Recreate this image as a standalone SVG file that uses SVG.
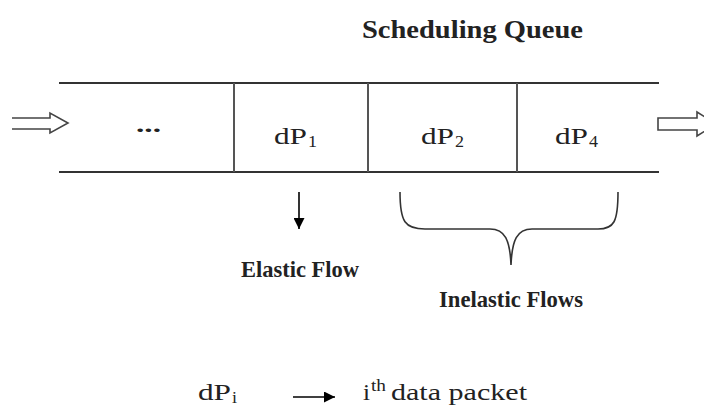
<svg xmlns="http://www.w3.org/2000/svg" width="704" height="407" viewBox="0 0 704 407">
  <style>
    .rail { stroke: #333; stroke-width: 2; fill: none; }
    .div { stroke: #555; stroke-width: 2; fill: none; }
    .lbl { font-family: "Liberation Serif", "Times New Roman", serif; fill: #222; }
    .bold { font-weight: bold; }
    .pk { font-size: 24px; }
    .sub { font-size: 16px; }
    .hollow { fill: #fff; stroke: #444; stroke-width: 1.6; stroke-linejoin: miter; }
    .wire { stroke: #000; stroke-width: 1.6; fill: none; }
    .brace { stroke: #333; stroke-width: 1.6; fill: none; }
  </style>
  <defs>
    <marker id="head" viewBox="0 0 10 10" refX="10" refY="5" markerWidth="12" markerHeight="11" markerUnits="userSpaceOnUse" orient="auto">
      <path d="M0,0 L10,5 L0,10 Z" fill="#000"/>
    </marker>
  </defs>
  <rect width="704" height="407" fill="#fff"/>

  <!-- title -->
  <g id="title">
    <text class="lbl bold" x="362" y="38" font-size="26" textLength="221" lengthAdjust="spacingAndGlyphs">Scheduling Queue</text>
  </g>

  <!-- queue body -->
  <g id="queue">
    <line class="rail" x1="59" y1="83" x2="659" y2="83"/>
    <line class="rail" x1="59" y1="172" x2="659" y2="172"/>
    <line class="div" x1="234" y1="83" x2="234" y2="172"/>
    <line class="div" x1="368" y1="83" x2="368" y2="172"/>
    <line class="div" x1="517" y1="83" x2="517" y2="172"/>
  </g>

  <g id="cell-rest">
    <text class="lbl bold" x="136" y="132" font-size="22" textLength="25" lengthAdjust="spacingAndGlyphs">...</text>
  </g>
  <g id="cell-dp1">
    <text class="lbl pk" x="274" y="144" textLength="33" lengthAdjust="spacingAndGlyphs">dP</text>
    <text class="lbl sub" x="308" y="147" textLength="9" lengthAdjust="spacingAndGlyphs">1</text>
  </g>
  <g id="cell-dp2">
    <text class="lbl pk" x="421" y="144" textLength="33" lengthAdjust="spacingAndGlyphs">dP</text>
    <text class="lbl sub" x="455" y="147" textLength="9" lengthAdjust="spacingAndGlyphs">2</text>
  </g>
  <g id="cell-dp4">
    <text class="lbl pk" x="555" y="144" textLength="33" lengthAdjust="spacingAndGlyphs">dP</text>
    <text class="lbl sub" x="589" y="147" textLength="9" lengthAdjust="spacingAndGlyphs">4</text>
  </g>

  <g id="elastic-label">
    <text class="lbl bold" x="241" y="277" font-size="23" textLength="118" lengthAdjust="spacingAndGlyphs">Elastic Flow</text>
  </g>
  <g id="inelastic-label">
    <text class="lbl bold" x="439" y="307" font-size="23" textLength="144" lengthAdjust="spacingAndGlyphs">Inelastic Flows</text>
  </g>

  <!-- legend -->
  <g id="legend-symbol">
    <text class="lbl pk" x="198" y="400" textLength="33" lengthAdjust="spacingAndGlyphs">dP</text>
    <text class="lbl sub" x="232" y="403" textLength="5" lengthAdjust="spacingAndGlyphs">i</text>
  </g>
  <g id="legend-meaning">
    <text class="lbl pk" x="363" y="400" textLength="7" lengthAdjust="spacingAndGlyphs">i</text>
    <text class="lbl sub" x="371" y="391" textLength="15" lengthAdjust="spacingAndGlyphs">th</text>
    <text class="lbl pk" x="391" y="400" textLength="136" lengthAdjust="spacingAndGlyphs">data packet</text>
  </g>

  <!-- connectors -->
  <g id="connectors">
    <!-- inflow arrow, open at its tail -->
    <path class="hollow" d="M12,118 L50,118 L50,113 L68,123 L50,133 L50,129 L12,129"/>
    <!-- outflow arrow -->
    <path class="hollow" d="M658,118 L697,118 L697,112 L716,124 L697,136 L697,130 L658,130 Z"/>
    <!-- elastic flow pointer -->
    <line class="wire" x1="299" y1="192" x2="299" y2="229" marker-end="url(#head)"/>
    <!-- brace over the inelastic packets -->
    <path class="brace" d="M400,192 C400,222 405,229 425,229 L490,229 C505,229 510,240 511,265 C512,240 517,229 532,229 L598,229 C614,229 618,222 618,192"/>
    <!-- legend arrow -->
    <line class="wire" x1="293" y1="397" x2="335" y2="397" marker-end="url(#head)"/>
  </g>
</svg>
